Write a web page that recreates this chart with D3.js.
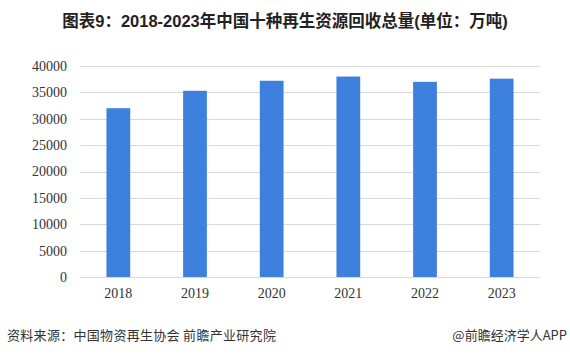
<!DOCTYPE html>
<html>
<head>
<meta charset="utf-8">
<script src="https://cdn.jsdelivr.net/npm/d3@7"></script>
<style>
  html, body { margin: 0; padding: 0; background: #fff; }
  svg { display: block; }
</style>
</head>
<body>
<svg id="chart" width="570" height="355"></svg>
<script>
const categories = ["2018", "2019", "2020", "2021", "2022", "2023"];
const values = [32000, 35300, 37200, 38000, 37000, 37600];
const yTicks = [0, 5000, 10000, 15000, 20000, 25000, 30000, 35000, 40000];
const titleText = "图表9：2018-2023年中国十种再生资源回收总量(单位：万吨)";
const sourceText = "资料来源：中国物资再生协会 前瞻产业研究院";
const brandText = "@前瞻经济学人APP";

const svg = d3.select("#chart");
const margin = { left: 80, right: 30, top: 66, bottom: 78 };
const W = 570, H = 355;

const x = d3.scaleBand()
  .domain(categories)
  .range([margin.left, W - margin.right])
  .paddingInner(0.69)
  .paddingOuter(0.345);

const y = d3.scaleLinear()
  .domain([0, 40000])
  .range([H - margin.bottom, margin.top]);

// gridlines
svg.append("g")
  .selectAll("line")
  .data(yTicks)
  .join("line")
  .attr("x1", margin.left)
  .attr("x2", W - margin.right)
  .attr("y1", d => Math.round(y(d)) + 0.5)
  .attr("y2", d => Math.round(y(d)) + 0.5)
  .attr("stroke", "#d9d9d9")
  .attr("stroke-width", 1);

// bars
svg.append("g")
  .selectAll("rect")
  .data(values)
  .join("rect")
  .attr("x", (d, i) => x(categories[i]))
  .attr("width", x.bandwidth())
  .attr("y", d => y(d))
  .attr("height", d => y(0) - y(d))
  .attr("fill", "#3D80DE");

// y axis
const yAxis = d3.axisLeft(y).tickValues(yTicks).tickFormat(d3.format("d")).tickSize(0).tickPadding(13);
const gy = svg.append("g").attr("transform", `translate(${margin.left},0)`).call(yAxis);
gy.select(".domain").remove();
gy.selectAll("text")
  .attr("font-family", "'Liberation Serif', 'Times New Roman', serif")
  .attr("font-size", 14)
  .attr("fill", "#333");

// x axis
const xAxis = d3.axisBottom(x).tickSize(0).tickPadding(11);
const gx = svg.append("g").attr("transform", `translate(0,${y(0)})`).call(xAxis);
gx.select(".domain").remove();
gx.selectAll("text")
  .attr("font-family", "'Liberation Serif', 'Times New Roman', serif")
  .attr("font-size", 14)
  .attr("fill", "#333");

// title
svg.append("text")
  .attr("x", 285)
  .attr("y", 27)
  .attr("text-anchor", "middle")
  .attr("font-family", "'Liberation Sans', 'Noto Sans CJK SC', sans-serif")
  .attr("font-weight", "bold")
  .attr("font-size", 16.5)
  .attr("fill", "#222")
  .text(titleText);

// source
svg.append("text")
  .attr("x", 7)
  .attr("y", 340)
  .attr("font-family", "'Noto Sans CJK SC', sans-serif")
  .attr("font-size", 13)
  .attr("letter-spacing", 0.3)
  .attr("fill", "#333")
  .text(sourceText);

svg.append("text")
  .attr("x", 567)
  .attr("y", 340)
  .attr("text-anchor", "end")
  .attr("font-family", "'Noto Sans CJK SC', sans-serif")
  .attr("font-size", 13)
  .attr("fill", "#333")
  .text(brandText);
</script>
</body>
</html>
